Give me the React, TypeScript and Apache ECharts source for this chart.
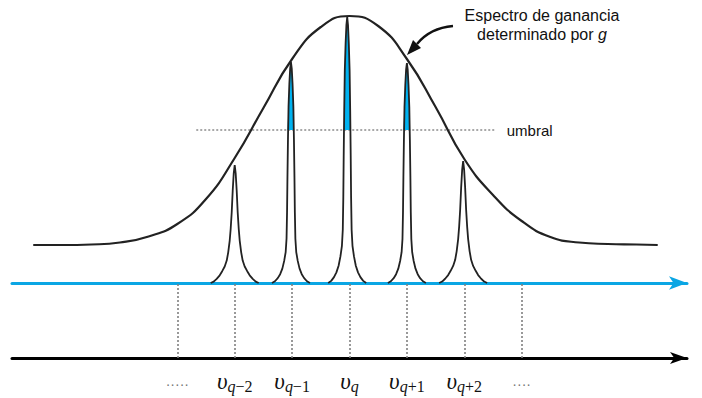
import { useEffect, useRef } from 'react';
import * as echarts from 'echarts';

// Gain envelope g(ν): [frequency (mode spacings), gain]
const gainCurve: [number, number][] = [
  [-5.51, 38], [-5.0, 38], [-4.5, 38.5], [-4.0, 40.5], [-3.5, 46.5], [-3.0, 59],
  [-2.5, 84], [-2.0, 125], [-1.5, 175], [-1.0, 224], [-0.5, 256], [0.0, 267],
  [0.5, 257], [1.0, 224], [1.5, 176], [2.0, 124], [2.5, 88], [3.0, 62],
  [3.5, 46], [4.0, 40.5], [4.5, 39], [5.0, 38.5], [5.37, 38],
];

// Longitudinal modes
const modePositions = [-2, -1.02, -0.04, 1.0, 1.98];
const modeHeights = [118, 221, 266, 220, 122];
const modeShapes = ['small', 'tall', 'tall', 'tall', 'small'];

// Half line shapes: [offset from mode centre, fraction of peak height]
const tallProfile: [number, number][] = [
  [0, 1], [0.014, 0.97], [0.028, 0.9], [0.042, 0.8], [0.052, 0.65], [0.061, 0.48],
  [0.068, 0.32], [0.077, 0.2], [0.092, 0.14], [0.118, 0.1], [0.15, 0.065],
  [0.188, 0.04], [0.23, 0.022], [0.279, 0.008], [0.331, 0],
];
const smallProfile: [number, number][] = [
  [0, 1], [0.017, 0.93], [0.035, 0.78], [0.052, 0.6], [0.07, 0.46], [0.087, 0.36],
  [0.113, 0.26], [0.139, 0.19], [0.174, 0.14], [0.218, 0.1], [0.261, 0.065],
  [0.314, 0.035], [0.366, 0.012], [0.418, 0],
];

// Threshold level and the span of its dotted line
const threshold = 153;
const thresholdSpan = [-2.67, 2.53];

// Frequency grid on the lower axis
const gridTicks = [-3, -2, -1, 0, 1, 2, 3];
const gridLabels = ['·····', 'q|−2', 'q|−1', 'q|', 'q|+1', 'q|+2', '····'];

const AXIS_BLUE = '#0ba6e4';
const FILL_BLUE = '#00b2f0';
const INK = '#222222';

function buildPeak(center: number, height: number, profile: [number, number][]) {
  const pts: [number, number][] = [];
  for (let i = profile.length - 1; i > 0; i--) {
    pts.push([center - profile[i][0], height * profile[i][1]]);
  }
  for (let i = 0; i < profile.length; i++) {
    pts.push([center + profile[i][0], height * profile[i][1]]);
  }
  return pts;
}

export default function App() {
  const ref = useRef<HTMLDivElement>(null);

  useEffect(() => {
    if (!ref.current) return;
    const chart = echarts.init(ref.current, null, { renderer: 'svg' });

    const peakSeries: any[] = [];
    const fillSeries: any[] = [];
    modePositions.forEach((pos, i) => {
      const profile = modeShapes[i] === 'tall' ? tallProfile : smallProfile;
      const pts = buildPeak(pos, modeHeights[i], profile);
      if (modeHeights[i] > threshold) {
        fillSeries.push({
          type: 'line',
          xAxisIndex: 0,
          yAxisIndex: 0,
          data: pts.map(([x, y]) => [x, Math.max(y, threshold)]),
          showSymbol: false,
          lineStyle: { width: 0 },
          areaStyle: { color: FILL_BLUE, opacity: 1, origin: threshold },
          silent: true,
          z: 2,
        });
      }
      peakSeries.push({
        type: 'line',
        xAxisIndex: 0,
        yAxisIndex: 0,
        data: pts,
        showSymbol: false,
        lineStyle: { color: INK, width: 1.8 },
        silent: true,
        z: 3,
      });
    });

    const xRange = { min: -5.88, max: 5.88 };

    chart.setOption({
      animation: false,
      grid: [
        { left: 12, right: 15, top: 0, bottom: 115 },
        { left: 12, right: 15, top: 283, bottom: 40 },
      ],
      xAxis: [
        {
          type: 'value',
          gridIndex: 0,
          ...xRange,
          axisLine: {
            show: true,
            symbol: ['none', 'arrow'],
            symbolSize: [10, 18],
            lineStyle: { color: AXIS_BLUE, width: 3 },
          },
          axisTick: { show: false },
          axisLabel: { show: false },
          splitLine: { show: false },
        },
        {
          type: 'value',
          gridIndex: 1,
          ...xRange,
          axisLine: {
            show: true,
            symbol: ['none', 'arrow'],
            symbolSize: [9, 17],
            lineStyle: { color: '#000000', width: 3 },
          },
          axisTick: { show: false },
          splitLine: { show: false },
          axisLabel: {
            show: true,
            customValues: gridTicks,
            margin: 11,
            formatter: (val: number) => {
              const idx = gridTicks.indexOf(Math.round(val));
              if (idx < 0) return '';
              const lab = gridLabels[idx];
              if (!lab.includes('|')) return `{d|${lab}}`;
              const [sub, rest] = lab.split('|');
              return rest ? `{v|υ}{s|${sub}}{n|${rest}}` : `{v|υ}{s|${sub}}`;
            },
            rich: {
              v: { fontFamily: 'Liberation Serif', fontStyle: 'italic', fontSize: 23, color: '#111' },
              s: {
                fontFamily: 'Liberation Serif', fontStyle: 'italic', fontSize: 16, color: '#111',
                padding: [9, 0, 0, 0],
              },
              n: {
                fontFamily: 'Liberation Serif', fontSize: 16, color: '#111',
                padding: [9, 0, 0, 0],
              },
              d: { fontFamily: 'Liberation Sans', fontSize: 14, color: '#777', padding: [8, 0, 0, 0] },
            },
          },
        },
      ],
      yAxis: [
        { type: 'value', gridIndex: 0, min: 0, max: 283, show: false },
        { type: 'value', gridIndex: 1, min: 0, max: 1, show: false },
      ],
      series: [
        ...fillSeries,
        ...peakSeries,
        {
          type: 'line',
          xAxisIndex: 0,
          yAxisIndex: 0,
          data: gainCurve,
          smooth: 0.5,
          showSymbol: false,
          lineStyle: { color: INK, width: 2.2 },
          silent: true,
          z: 3,
        },
        {
          type: 'line',
          xAxisIndex: 0,
          yAxisIndex: 0,
          data: [[thresholdSpan[0], threshold], [thresholdSpan[1], threshold]],
          showSymbol: false,
          lineStyle: { color: '#8c8c8c', width: 1.6, type: [2, 2] },
          silent: true,
          z: 1,
          endLabel: {
            show: true,
            formatter: 'umbral',
            distance: 12,
            fontFamily: 'Liberation Sans',
            fontSize: 15,
            color: '#111',
          },
        },
        {
          type: 'line',
          xAxisIndex: 1,
          yAxisIndex: 1,
          data: [[gridTicks[0], 0]],
          showSymbol: false,
          lineStyle: { opacity: 0 },
          silent: true,
          markLine: {
            silent: true,
            symbol: ['none', 'none'],
            label: { show: false },
            lineStyle: { color: '#808080', width: 1.6, type: [2, 2] },
            data: gridTicks.map((t) => ({ xAxis: t })),
          },
        },
      ],
      graphic: [
        {
          type: 'text',
          x: 542,
          y: 15,
          style: {
            text: 'Espectro de ganancia',
            align: 'center',
            verticalAlign: 'middle',
            fontFamily: 'Liberation Sans',
            fontSize: 16,
            fill: '#111',
          },
        },
        {
          type: 'text',
          x: 542,
          y: 34,
          style: {
            text: 'determinado por {g|g}',
            align: 'center',
            verticalAlign: 'middle',
            fontFamily: 'Liberation Sans',
            fontSize: 16,
            fill: '#111',
            rich: { g: { fontFamily: 'Liberation Sans', fontStyle: 'italic', fontSize: 16, fill: '#111' } },
          },
        },
        {
          type: 'bezierCurve',
          shape: { x1: 453, y1: 26, x2: 417, y2: 44, cpx1: 430, cpy1: 28 },
          style: { stroke: '#111', lineWidth: 2.4, fill: 'none' },
        },
        {
          type: 'polygon',
          shape: { points: [[407, 55], [413, 40], [421, 48]] },
          style: { fill: '#111' },
        },
      ],
    });

    return () => chart.dispose();
  }, []);

  return (
    <div
      ref={ref}
      style={{ position: 'fixed', left: 0, top: 0, width: 702, height: 398, background: '#fff' }}
    />
  );
}
